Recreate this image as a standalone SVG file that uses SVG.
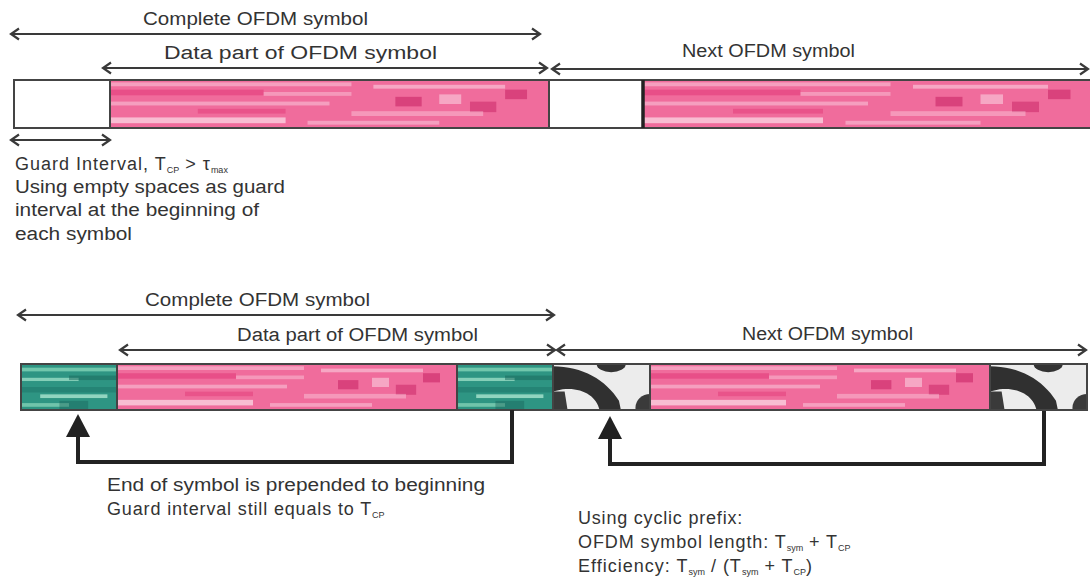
<svg xmlns="http://www.w3.org/2000/svg" width="1090" height="579" viewBox="0 0 1090 579">
<style>
  text { font-family: "Liberation Sans", Arial, sans-serif; fill: #333; font-size: 18px; }
  .sub { font-size: 9px; letter-spacing: 0; }
  .dim { stroke: #3a3a3a; stroke-width: 2; fill: none; }
  .box { stroke: #444; stroke-width: 2; }
  .conn { stroke: #222; stroke-width: 4; fill: none; }
  .head { fill: #222; }
</style>
<defs>
  <marker id="ah" markerUnits="userSpaceOnUse" markerWidth="12" markerHeight="14" refX="9" refY="7" orient="auto-start-reverse">
    <path d="M1,1.5 L9,7 L1,12.5" fill="none" stroke="#3a3a3a" stroke-width="2.2"/>
  </marker>
  <pattern id="pink" patternUnits="objectBoundingBox" patternContentUnits="objectBoundingBox" width="1" height="1">
    <rect width="1" height="1" fill="#f06c9c"/>
    <rect x="0" y="0.05" width="0.55" height="0.08" fill="#fff" opacity="0.35"/>
    <rect x="0" y="0.2" width="0.35" height="0.12" fill="#d81b60" opacity="0.35"/>
    <rect x="0.35" y="0.25" width="0.2" height="0.08" fill="#fff" opacity="0.3"/>
    <rect x="0" y="0.45" width="0.5" height="0.08" fill="#fff" opacity="0.35"/>
    <rect x="0" y="0.78" width="0.4" height="0.12" fill="#fff" opacity="0.55"/>
    <rect x="0.45" y="0.85" width="0.3" height="0.08" fill="#fff" opacity="0.35"/>
    <rect x="0.6" y="0.1" width="0.3" height="0.08" fill="#fff" opacity="0.4"/>
    <rect x="0.65" y="0.35" width="0.06" height="0.2" fill="#c2185b" opacity="0.5"/>
    <rect x="0.75" y="0.3" width="0.05" height="0.2" fill="#fff" opacity="0.4"/>
    <rect x="0.82" y="0.45" width="0.06" height="0.22" fill="#c2185b" opacity="0.45"/>
    <rect x="0.9" y="0.2" width="0.05" height="0.2" fill="#c2185b" opacity="0.5"/>
    <rect x="0.55" y="0.65" width="0.3" height="0.1" fill="#fff" opacity="0.3"/>
    <rect x="0.2" y="0.6" width="0.2" height="0.1" fill="#d81b60" opacity="0.3"/>
  </pattern>
  <pattern id="teal" patternUnits="objectBoundingBox" patternContentUnits="objectBoundingBox" width="1" height="1">
    <rect width="1" height="1" fill="#2e9583"/>
    <rect x="0" y="0.08" width="1" height="0.08" fill="#9ee8c8" opacity="0.6"/>
    <rect x="0" y="0.3" width="0.6" height="0.07" fill="#bff5dc" opacity="0.6"/>
    <rect x="0.5" y="0.25" width="0.5" height="0.1" fill="#17665a" opacity="0.5"/>
    <rect x="0" y="0.5" width="1" height="0.12" fill="#1b7064" opacity="0.45"/>
    <rect x="0.2" y="0.66" width="0.7" height="0.08" fill="#c7f7e1" opacity="0.65"/>
    <rect x="0" y="0.85" width="0.5" height="0.08" fill="#a5ebcc" opacity="0.55"/>
    <rect x="0.4" y="0.8" width="0.3" height="0.2" fill="#156055" opacity="0.4"/>
  </pattern>
  <pattern id="bw" patternUnits="objectBoundingBox" patternContentUnits="objectBoundingBox" width="1" height="1">
    <rect width="1" height="1" fill="#ececec"/>
    <path d="M0,0.05 C0.3,0.05 0.55,0.35 0.68,0.8 L0.7,1 L0.48,1 C0.45,0.7 0.3,0.5 0.1,0.55 L0,0.6 Z" fill="#303030"/>
    <path d="M0,0.6 L0.12,0.6 L0.15,1 L0,1 Z" fill="#3a3a3a"/>
    <ellipse cx="0.6" cy="0" rx="0.15" ry="0.18" fill="#333"/>
    <ellipse cx="1" cy="0.95" rx="0.15" ry="0.3" fill="#3a3a3a"/>
  </pattern>
</defs>
<rect width="1090" height="579" fill="#fff"/>

<g id="top-labels">
  <text x="143" y="25" textLength="225" lengthAdjust="spacingAndGlyphs">Complete OFDM symbol</text>
  <text x="164" y="59" textLength="273" lengthAdjust="spacingAndGlyphs">Data part of OFDM symbol</text>
  <text x="682" y="57" textLength="173" lengthAdjust="spacingAndGlyphs">Next OFDM symbol</text>
</g>

<g id="top-bar">
  <rect class="box" x="14" y="80" width="96" height="48" fill="#fff"/>
  <rect class="box" x="110" y="80" width="439" height="48" fill="url(#pink)"/>
  <rect class="box" x="549" y="80" width="94" height="48" fill="#fff"/>
  <rect class="box" x="643" y="80" width="450" height="48" fill="url(#pink)"/>
  <line x1="643" y1="80" x2="643" y2="128" stroke="#222" stroke-width="3.5"/>
</g>

<g id="top-guard-text">
  <text x="15" y="170" letter-spacing="1">Guard Interval, T<tspan class="sub" dy="3">CP</tspan><tspan dy="-3"> &gt; τ</tspan><tspan class="sub" dy="3">max</tspan></text>
  <text x="15" y="193" textLength="270" lengthAdjust="spacingAndGlyphs">Using empty spaces as guard</text>
  <text x="15" y="216" textLength="244" lengthAdjust="spacingAndGlyphs">interval at the beginning of</text>
  <text x="15" y="240" textLength="117" lengthAdjust="spacingAndGlyphs">each symbol</text>
</g>

<g id="bottom-labels">
  <text x="145" y="306" textLength="225" lengthAdjust="spacingAndGlyphs">Complete OFDM symbol</text>
  <text x="237" y="341" textLength="241" lengthAdjust="spacingAndGlyphs">Data part of OFDM symbol</text>
  <text x="742" y="340" textLength="171" lengthAdjust="spacingAndGlyphs">Next OFDM symbol</text>
</g>

<g id="bottom-bar">
  <rect class="box" x="21" y="364" width="96" height="46" fill="url(#teal)"/>
  <rect class="box" x="117" y="364" width="340" height="46" fill="url(#pink)"/>
  <rect class="box" x="457" y="364" width="96" height="46" fill="url(#teal)"/>
  <rect class="box" x="553" y="364" width="97" height="46" fill="url(#bw)"/>
  <rect class="box" x="650" y="364" width="340" height="46" fill="url(#pink)"/>
  <rect class="box" x="990" y="364" width="97" height="46" fill="url(#bw)"/>
</g>

<g id="bottom-text">
  <text x="107" y="491" textLength="378" lengthAdjust="spacingAndGlyphs">End of symbol is prepended to beginning</text>
  <text x="107" y="515" letter-spacing="0.85">Guard interval still equals to T<tspan class="sub" dy="3">CP</tspan></text>
  <text x="578" y="524" letter-spacing="0.8">Using cyclic prefix:</text>
  <text x="578" y="548" letter-spacing="0.9">OFDM symbol length: T<tspan class="sub" dy="3">sym</tspan><tspan dy="-3"> + T</tspan><tspan class="sub" dy="3">CP</tspan></text>
  <text x="578" y="572" letter-spacing="1">Efficiency: T<tspan class="sub" dy="3">sym</tspan><tspan dy="-3"> / (T</tspan><tspan class="sub" dy="3">sym</tspan><tspan dy="-3"> + T</tspan><tspan class="sub" dy="3">CP</tspan><tspan dy="-3">)</tspan></text>
</g>

<g id="connectors">
  <line class="dim" x1="11" y1="34" x2="540" y2="34" marker-start="url(#ah)" marker-end="url(#ah)"/>
  <line class="dim" x1="103" y1="68" x2="547" y2="68" marker-start="url(#ah)" marker-end="url(#ah)"/>
  <line class="dim" x1="552" y1="69" x2="1088" y2="69" marker-start="url(#ah)" marker-end="url(#ah)"/>
  <line class="dim" x1="11" y1="140" x2="110" y2="140" marker-start="url(#ah)" marker-end="url(#ah)"/>
  <line class="dim" x1="18" y1="315" x2="554" y2="315" marker-start="url(#ah)" marker-end="url(#ah)"/>
  <line class="dim" x1="120" y1="350" x2="555" y2="350" marker-start="url(#ah)" marker-end="url(#ah)"/>
  <line class="dim" x1="557" y1="350" x2="1086" y2="350" marker-start="url(#ah)" marker-end="url(#ah)"/>
  <path class="conn" d="M512,410 V462 H78 V434"/>
  <polygon class="head" points="78,414 66,437 90,437"/>
  <path class="conn" d="M1044,411 V464 H610 V434"/>
  <polygon class="head" points="610,416 598,439 622,439"/>
</g>
</svg>
